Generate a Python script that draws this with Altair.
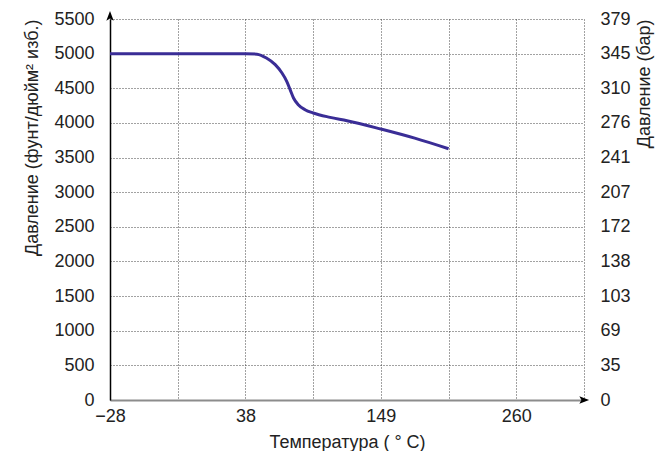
import altair as alt
import pandas as pd

# temperature position in grid units (one unit per vertical gridline)
temp_pos = [0, 2.0, 2.17, 2.31, 2.44, 2.54, 2.61, 2.66, 2.71, 2.78, 2.88, 3.0, 3.25, 3.5, 4.0, 4.5, 5.0]
pressure_psi = [5000, 5000, 4992, 4937, 4841, 4720, 4600, 4480, 4360, 4263, 4191, 4143, 4080, 4032, 3912, 3780, 3627]

x_tick_labels = ["−28", "", "38", "", "149", "", "260", ""]
bar_tick_labels = ["0", "35", "69", "103", "138", "172", "207", "241", "276", "310", "345", "379"]

FONT = "Liberation Sans"
FS = 18
TXT = "#222"

df = pd.DataFrame({"t": temp_pos, "p": pressure_psi})

x_expr = "[" + ",".join("'%s'" % s for s in x_tick_labels) + "][datum.value]"
bar_expr = "[" + ",".join("'%s'" % s for s in bar_tick_labels) + "][round(datum.value/500)]"

xscale = alt.Scale(domain=[0, 7], nice=False, zero=False)
yscale = alt.Scale(domain=[0, 5500], nice=False)

common = dict(labelFont=FONT, titleFont=FONT, labelFontSize=FS, titleFontSize=FS,
              labelColor=TXT, titleColor=TXT, titleFontWeight="normal", ticks=False)

x_enc = alt.X("t:Q", scale=xscale, title="Температура ( ° C)",
              axis=alt.Axis(values=list(range(8)), labelExpr=x_expr, grid=True,
                            gridDash=[1, 2], gridColor="#444", gridWidth=1,
                            domainColor="#8c8c8c", domainWidth=2,
                            labelPadding=7, titlePadding=8, labelFlush=False, **common))

line = alt.Chart(df).mark_line(color="#3a2d96", strokeWidth=3, interpolate="monotone").encode(
    x=x_enc,
    y=alt.Y("p:Q", scale=yscale, title="Давление (фунт/дюйм² изб.)",
            axis=alt.Axis(values=list(range(0, 5501, 500)), format="d", grid=True,
                          gridDash=[1, 2], gridColor="#444", gridWidth=1,
                          domainColor="black", domainWidth=1.5,
                          labelPadding=16, titlePadding=12, titleAnchor="end", **common))
)

right = alt.Chart(df).mark_line(opacity=0).encode(
    x=alt.X("t:Q", scale=xscale),
    y=alt.Y("p:Q", scale=yscale, title="Давление (бар)",
            axis=alt.Axis(orient="right", values=list(range(0, 5501, 500)),
                          labelExpr=bar_expr, grid=False, domain=False,
                          labelPadding=16, titlePadding=5, titleAnchor="end",
                          titleAngle=-90, titleBaseline="top", **common))
)

arrow_up = alt.Chart(pd.DataFrame({"t": [0], "p": [5500]})).mark_point(
    shape="M0,-1 L0.6,0.6 L0,0.25 L-0.6,0.6 Z", size=150, filled=True,
    color="black", opacity=1, yOffset=-2).encode(
    x=alt.X("t:Q", scale=xscale), y=alt.Y("p:Q", scale=yscale, axis=None))

arrow_right = alt.Chart(pd.DataFrame({"t": [7], "p": [0]})).mark_point(
    shape="M1,0 L-0.6,0.6 L-0.25,0 L-0.6,-0.6 Z", size=150, filled=True,
    color="black", opacity=1, xOffset=-1).encode(
    x=alt.X("t:Q", scale=xscale), y=alt.Y("p:Q", scale=yscale, axis=None))

chart = alt.layer(line, right, arrow_up, arrow_right).resolve_scale(
    y="independent"
).properties(
    width=474, height=381,
    autosize=alt.AutoSizeParams(type="none"),
    padding={"left": 102, "top": 11, "right": 75, "bottom": 51},
).configure_view(stroke=None)

chart.save("out.html", embed_options={"renderer": "svg", "actions": False})
